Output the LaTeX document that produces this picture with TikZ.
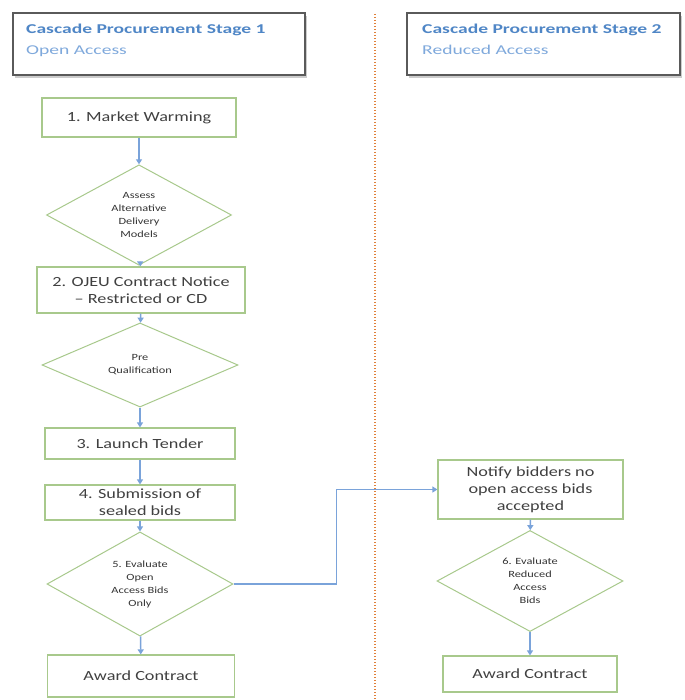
\documentclass[tikz,border=0pt]{standalone}
\usepackage{fontspec}
\setmainfont[FakeStretch=1.3]{Carlito}
\newfontfamily\headfont[FakeStretch=1.45]{Carlito}
\usetikzlibrary{shapes.geometric,arrows.meta}
\definecolor{boxgreen}{HTML}{A8C98C}
\definecolor{arrowblue}{HTML}{7AA3DA}
\definecolor{headblue}{HTML}{4F86C6}
\definecolor{headlight}{HTML}{7FA9DC}
\definecolor{headgray}{HTML}{5A5A5A}
\definecolor{dotorange}{HTML}{E0803A}
\tikzset{
  x=1pt, y=-1pt,
  stepbox/.style={draw=boxgreen, line width=1.2pt, rectangle, inner sep=2pt, align=center, font=\fontsize{14}{17}\selectfont, text=black!75},
  decision/.style={draw=boxgreen, line width=1pt, diamond, inner sep=0pt, align=center, font=\fontsize{9.5}{13}\selectfont, text=black!80},
  headbox/.style={draw=headgray, line width=1.4pt, rectangle, inner sep=0pt},
  headtext/.style={anchor=base west, inner sep=0pt, font=\headfont\fontsize{13.5}{16}\selectfont},
  flow/.style={draw=arrowblue, line width=1.4pt, -{Triangle[width=6pt,length=5pt]}},
}
\begin{document}
\begin{tikzpicture}
\useasboundingbox (0,0) rectangle (684,700);
\fill[white] (0,0) rectangle (684,700);
% divider
\draw[dotorange, line width=2.2pt, dash pattern=on 1.2pt off 1.8pt] (375,14) -- (375,700);
% headers
\fill[black!20] (15,16) rectangle (307,78);
\node[headbox, fill=white, minimum width=292pt, minimum height=62pt] (h1) at (159,44) {};
\node[headtext, text=headblue] (h1a) at (26,34) {\bfseries Cascade Procurement Stage 1};
\node[headtext, text=headlight] (h1b) at (26,55) {Open Access};
\fill[black!20] (409,16) rectangle (682,78);
\node[headbox, fill=white, minimum width=273pt, minimum height=62pt] (h2) at (543.5,44) {};
\node[headtext, text=headblue] (h2a) at (422,34) {\bfseries Cascade Procurement Stage 2};
\node[headtext, text=headlight] (h2b) at (422,55) {Reduced Access};
% left column
\node[stepbox, minimum width=194pt, minimum height=39pt] (mw) at (139,117.5) {1. Market Warming};
\node[decision, minimum width=185pt, minimum height=66pt] (d1) at (139,215) {Assess\\Alternative\\Delivery\\Models};
\node[stepbox, minimum width=208pt, minimum height=46pt] (ojeu) at (141,290) {2. OJEU Contract Notice\\– Restricted or CD};
\node[decision, minimum width=196pt, minimum height=65pt] (d2) at (140,365) {Pre\\Qualification};
\node[stepbox, minimum width=190pt, minimum height=31pt] (lt) at (140,443.5) {3. Launch Tender};
\node[stepbox, minimum width=190pt, minimum height=35pt] (sub) at (140,502.5) {4. Submission of\\sealed bids};
\node[decision, minimum width=186pt, minimum height=68pt] (d3) at (140,584) {5. Evaluate\\Open\\Access Bids\\Only};
\node[stepbox, minimum width=187pt, minimum height=42pt] (awl) at (141,676) {Award Contract};
% right column
\node[stepbox, minimum width=185pt, minimum height=59pt] (nt) at (530.5,489.5) {Notify bidders no\\open access bids\\accepted};
\node[decision, minimum width=186pt, minimum height=78pt] (d6) at (530,581) {6. Evaluate\\Reduced\\Access\\Bids};
\node[stepbox, minimum width=174pt, minimum height=36pt] (awr) at (530,674) {Award Contract};
% connectors
\draw[flow] (mw) -- (d1);
\draw[flow] (d1) -- (ojeu);
\draw[flow] (ojeu) -- (d2);
\draw[flow] (d2) -- (lt);
\draw[flow] (lt) -- (sub);
\draw[flow] (sub) -- (d3);
\draw[flow] (d3) -- (awl);
\draw[flow] (d3.east) -- ++(103,0) |- (nt.west);
\draw[flow] (nt) -- (d6);
\draw[flow] (d6) -- (awr);
\end{tikzpicture}
\end{document}
